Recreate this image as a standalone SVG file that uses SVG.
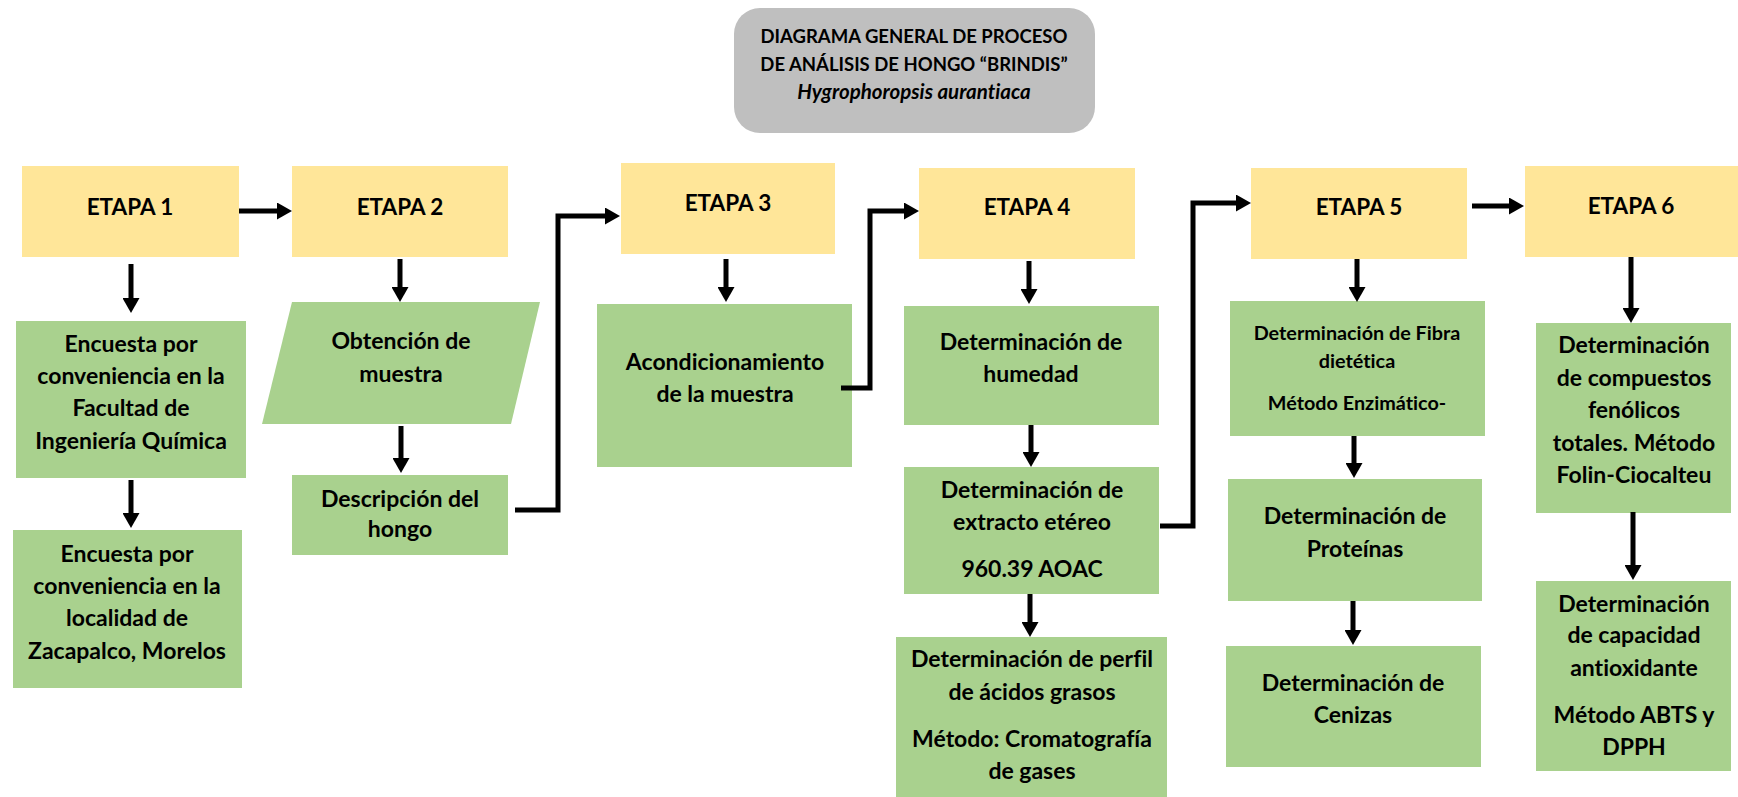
<svg xmlns="http://www.w3.org/2000/svg" width="1738" height="797" viewBox="0 0 1738 797">
<defs>
<style>
.t{font-family:Lato,"Open Sans","Liberation Sans",sans-serif;font-weight:700;fill:#000;text-anchor:middle;font-variant-ligatures:none}
.et{font-size:22.5px}
.b{font-size:23px}
.s{font-size:19.8px}
.ti{font-size:18.5px}
.it{font-size:20.5px;font-style:italic}
.y{fill:#FFE699}
.g{fill:#A9D18E}
.c{fill:none;stroke:#000;stroke-width:5;stroke-linejoin:miter}
</style>
<marker id="ah" markerUnits="userSpaceOnUse" markerWidth="17" markerHeight="17" refX="1" refY="8.5" orient="auto">
<path d="M0,0 L15,8.5 L0,17 z" fill="#000"/>
</marker>
</defs>
<rect width="1738" height="797" fill="#fff"/>

<g id="title">
<rect x="734" y="8" width="361" height="125" rx="26" fill="#BFBFBF"/>
<text class="t ti" x="914" y="43">DIAGRAMA GENERAL DE PROCESO</text>
<text class="t ti" x="914" y="71">DE ANÁLISIS DE HONGO “BRINDIS”</text>
<text class="t it" x="914" y="99">Hygrophoropsis aurantiaca</text>
</g>

<g id="etapa1"><rect class="y" x="22" y="166" width="217" height="91"/><text class="t et" x="130" y="215">ETAPA 1</text></g>
<g id="etapa2"><rect class="y" x="292" y="166" width="216" height="91"/><text class="t et" x="400" y="215">ETAPA 2</text></g>
<g id="etapa3"><rect class="y" x="621" y="163" width="214" height="91"/><text class="t et" x="728" y="211">ETAPA 3</text></g>
<g id="etapa4"><rect class="y" x="919" y="168" width="216" height="91"/><text class="t et" x="1027" y="215">ETAPA 4</text></g>
<g id="etapa5"><rect class="y" x="1251" y="168" width="216" height="91"/><text class="t et" x="1359" y="215">ETAPA 5</text></g>
<g id="etapa6"><rect class="y" x="1525" y="166" width="213" height="91"/><text class="t et" x="1631" y="214">ETAPA 6</text></g>

<g id="encuesta1"><rect class="g" x="16" y="321" width="230" height="157"/>
<text class="t b" x="131" y="352">Encuesta por</text>
<text class="t b" x="131" y="384">conveniencia en la</text>
<text class="t b" x="131" y="416">Facultad de</text>
<text class="t b" x="131" y="449">Ingeniería Química</text></g>

<g id="encuesta2"><rect class="g" x="13" y="530" width="229" height="158"/>
<text class="t b" x="127" y="562">Encuesta por</text>
<text class="t b" x="127" y="594">conveniencia en la</text>
<text class="t b" x="127" y="626">localidad de</text>
<text class="t b" x="127" y="659">Zacapalco, Morelos</text></g>

<g id="obtencion"><polygon class="g" points="292,302 540,302 511,424 262,424"/>
<text class="t b" x="401" y="349">Obtención de</text>
<text class="t b" x="401" y="382">muestra</text></g>

<g id="descripcion"><rect class="g" x="292" y="475" width="216" height="80"/>
<text class="t b" x="400" y="507">Descripción del</text>
<text class="t b" x="400" y="537">hongo</text></g>

<g id="acondicionamiento"><rect class="g" x="597" y="304" width="255" height="163"/>
<text class="t b" x="725" y="370">Acondicionamiento</text>
<text class="t b" x="725" y="402">de la muestra</text></g>

<g id="humedad"><rect class="g" x="904" y="306" width="255" height="119"/>
<text class="t b" x="1031" y="350">Determinación de</text>
<text class="t b" x="1031" y="382">humedad</text></g>

<g id="extracto"><rect class="g" x="904" y="467" width="255" height="127"/>
<text class="t b" x="1032" y="498">Determinación de</text>
<text class="t b" x="1032" y="530">extracto etéreo</text>
<text class="t b" x="1032" y="577">960.39 AOAC</text></g>

<g id="perfil"><rect class="g" x="896" y="637" width="271" height="160"/>
<text class="t b" x="1032" y="667">Determinación de perfil</text>
<text class="t b" x="1032" y="700">de ácidos grasos</text>
<text class="t b" x="1032" y="747">Método: Cromatografía</text>
<text class="t b" x="1032" y="779">de gases</text></g>

<g id="fibra"><rect class="g" x="1230" y="301" width="255" height="135"/>
<text class="t s" x="1357" y="340">Determinación de Fibra</text>
<text class="t s" x="1357" y="368">dietética</text>
<text class="t s" x="1357" y="410">Método Enzimático-</text></g>

<g id="proteinas"><rect class="g" x="1228" y="479" width="254" height="122"/>
<text class="t b" x="1355" y="524">Determinación de</text>
<text class="t b" x="1355" y="557">Proteínas</text></g>

<g id="cenizas"><rect class="g" x="1226" y="646" width="255" height="121"/>
<text class="t b" x="1353" y="691">Determinación de</text>
<text class="t b" x="1353" y="723">Cenizas</text></g>

<g id="fenolicos"><rect class="g" x="1536" y="323" width="195" height="190"/>
<text class="t b" x="1634" y="353">Determinación</text>
<text class="t b" x="1634" y="386">de compuestos</text>
<text class="t b" x="1634" y="418">fenólicos</text>
<text class="t b" x="1634" y="451">totales. Método</text>
<text class="t b" x="1634" y="483">Folin-Ciocalteu</text></g>

<g id="antioxidante"><rect class="g" x="1536" y="581" width="195" height="190"/>
<text class="t b" x="1634" y="612">Determinación</text>
<text class="t b" x="1634" y="643">de capacidad</text>
<text class="t b" x="1634" y="676">antioxidante</text>
<text class="t b" x="1634" y="723">Método ABTS y</text>
<text class="t b" x="1634" y="755">DPPH</text></g>

<g id="connectors">
<path class="c" marker-end="url(#ah)" d="M239,211 H278"/>
<path class="c" marker-end="url(#ah)" d="M131,264 V299"/>
<path class="c" marker-end="url(#ah)" d="M131,480 V514"/>
<path class="c" marker-end="url(#ah)" d="M400,259 V288"/>
<path class="c" marker-end="url(#ah)" d="M401,426 V459"/>
<path class="c" marker-end="url(#ah)" d="M515,510 H558 V216 H606"/>
<path class="c" marker-end="url(#ah)" d="M726,259 V288"/>
<path class="c" marker-end="url(#ah)" d="M841,388 H870 V211 H905"/>
<path class="c" marker-end="url(#ah)" d="M1029,261 V290"/>
<path class="c" marker-end="url(#ah)" d="M1031,425 V453"/>
<path class="c" marker-end="url(#ah)" d="M1030,594 V623"/>
<path class="c" marker-end="url(#ah)" d="M1160,526 H1193 V203 H1237"/>
<path class="c" marker-end="url(#ah)" d="M1472,206 H1510"/>
<path class="c" marker-end="url(#ah)" d="M1357,259 V288"/>
<path class="c" marker-end="url(#ah)" d="M1354,436 V464"/>
<path class="c" marker-end="url(#ah)" d="M1353,601 V631"/>
<path class="c" marker-end="url(#ah)" d="M1631,257 V309"/>
<path class="c" marker-end="url(#ah)" d="M1633,512 V566"/>
</g>
</svg>
